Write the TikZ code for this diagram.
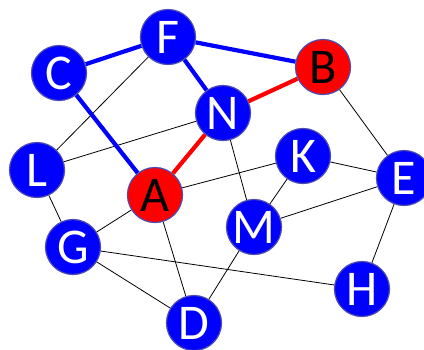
\documentclass[tikz,border=0pt]{standalone}
\usepackage{fontspec}
\setmainfont{Carlito}
\begin{document}
\begin{tikzpicture}[
    x=1pt, y=-1pt,
    vertex/.style={circle, minimum size=55pt, inner sep=0pt, draw=blue!40!gray,
      line width=1.2pt, font=\fontsize{50}{50}\selectfont},
    plain/.style={vertex, fill=blue, text=white},
    marked/.style={vertex, fill=red, text=black},
    edge/.style={black, line width=0.8pt},
    tree/.style={blue, line width=4.2pt},
    route/.style={red, line width=4.2pt},
  ]
\useasboundingbox (0,0) rectangle (424,349);

% Vertices, placed at their pixel positions.
\node[plain]  (F) at (168,37)  {F};
\node[plain]  (C) at (59,73)   {C};
\node[marked] (B) at (323,67)  {B};
\node[plain]  (N) at (223,113) {N};
\node[plain]  (L) at (37,170)  {L};
\node[plain]  (K) at (303,156) {K};
\node[plain]  (E) at (404,178) {E};
\node[marked] (A) at (155,195) {A};
\node[plain]  (M) at (254,227) {M};
\node[plain]  (G) at (73,247)  {G};
\node[plain]  (H) at (362,289) {H};
\node[plain]  (D) at (194,323) {D};

% Ordinary edges behind the vertices.
\begin{scope}[on background layer/.try]
\foreach \u/\v in {L/F, L/N, L/G, G/A, G/D, G/H, A/K, A/D, N/M,
                   K/M, K/E, M/E, B/E, E/H, M/D}
  \draw[edge] (\u) -- (\v);
\end{scope}

% Highlighted edges.
\draw[tree] (C) -- (F);
\draw[tree] (F) -- (B);
\draw[tree] (F) -- (N);
\draw[tree] (C) -- (A);
\draw[route] (A) -- (N);
\draw[route] (N) -- (B);

\end{tikzpicture}
\end{document}
